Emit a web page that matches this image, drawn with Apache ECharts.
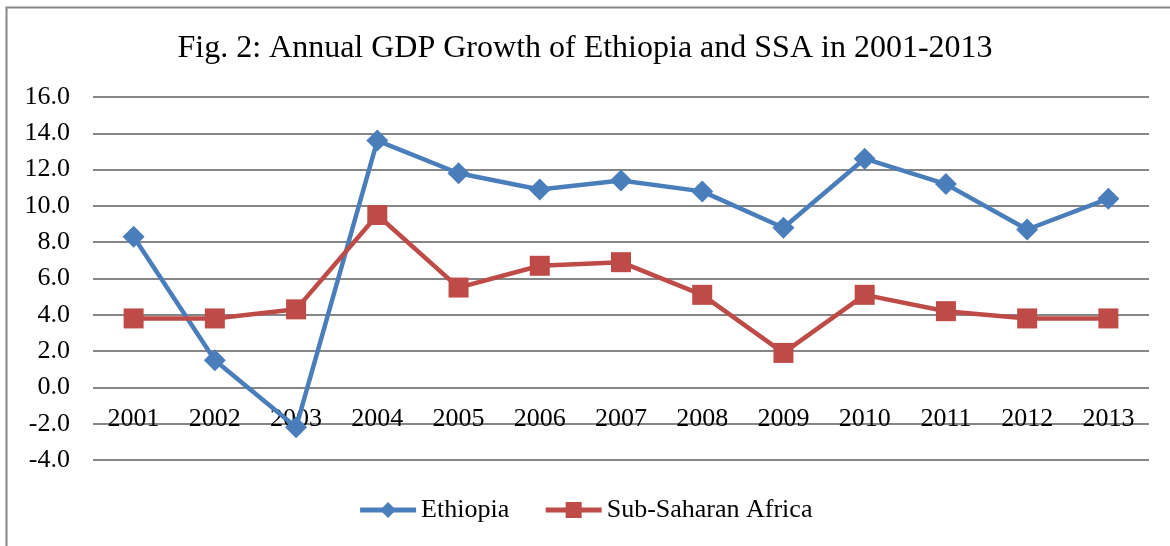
<!DOCTYPE html>
<html><head><meta charset="utf-8">
<script src="https://cdn.jsdelivr.net/npm/echarts@6/dist/echarts.min.js"></script>
<style>html,body{margin:0;padding:0;background:#fff}#c{width:1170px;height:546px}</style>
</head><body><div id="c"></div>
<script>
const years = ['2001','2002','2003','2004','2005','2006','2007','2008','2009','2010','2011','2012','2013'];
const ethiopia = [8.3, 1.5, -2.2, 13.6, 11.8, 10.9, 11.4, 10.8, 8.8, 12.6, 11.2, 8.7, 10.4];
const ssa = [3.8, 3.8, 4.3, 9.5, 5.5, 6.7, 6.9, 5.1, 1.9, 5.1, 4.2, 3.8, 3.8];
const titleText = 'Fig. 2: Annual GDP Growth of Ethiopia and SSA in 2001-2013';
const font = '"Liberation Serif", "Times New Roman", serif';

const chart = echarts.init(document.getElementById('c'));
chart.setOption({
  animation: false,
  backgroundColor: '#fff',
  textStyle: { fontFamily: font },
  graphic: [{ type: 'rect', shape: { x: 6.5, y: 7.5, width: 1300, height: 700 }, style: { fill: 'none', stroke: '#868686', lineWidth: 2 }, silent: true }],
  title: { text: titleText, left: 'center', top: 28, textStyle: { fontFamily: font, fontWeight: 'normal', fontSize: 32, color: '#000' } },
  legend: {
    bottom: 18, left: 'center', itemWidth: 56, itemHeight: 20, itemGap: 34,
    lineStyle: { width: 5 },
    textStyle: { fontFamily: font, fontSize: 26, color: '#000' },
    data: ['Ethiopia', 'Sub-Saharan Africa']
  },
  grid: { left: 93, right: 21, top: 97, bottom: 86, containLabel: false },
  xAxis: {
    type: 'category', data: years, boundaryGap: true, offset: -72.6,
    axisLine: { onZero: false, show: false },
    axisTick: { show: false },
    axisLabel: { fontFamily: font, fontSize: 26, color: '#000', margin: 19 }
  },
  yAxis: {
    type: 'value', min: -4, max: 16, interval: 2,
    axisLine: { show: false }, axisTick: { show: false },
    axisLabel: { fontFamily: font, fontSize: 26, color: '#000', margin: 23, formatter: v => v.toFixed(1) },
    splitLine: { lineStyle: { color: '#868686', width: 2 } }
  },
  series: [
    { name: 'Ethiopia', type: 'line', data: ethiopia, symbol: 'diamond', symbolSize: 22,
      lineStyle: { color: '#4a7ebb', width: 4.5 }, itemStyle: { color: '#4a7ebb' } },
    { name: 'Sub-Saharan Africa', type: 'line', data: ssa, symbol: 'rect', symbolSize: 20,
      lineStyle: { color: '#be4b48', width: 4.5 }, itemStyle: { color: '#be4b48' } }
  ]
});
</script></body></html>
